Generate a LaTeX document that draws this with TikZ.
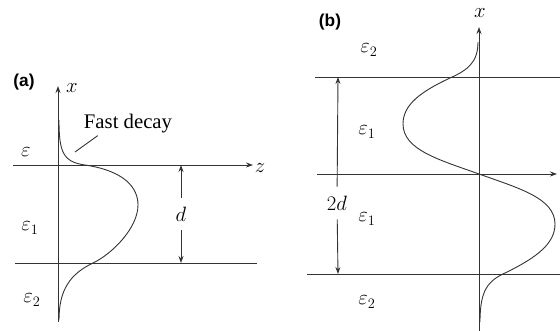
\documentclass[tikz,border=0pt]{standalone}
\usepackage{fontspec}
\setmainfont{Liberation Serif}
\setsansfont{Liberation Sans}
\usetikzlibrary{arrows.meta}

\begin{document}
\begin{tikzpicture}[x=1pt,y=-1pt,>={Stealth[length=7pt,width=5pt]},
  ln/.style={line width=.9pt,draw=black!80},
  wave/.style={line width=.9pt,draw=black!80},
  lbl/.style={font=\huge,inner sep=1pt},
  gap/.style={lbl,inner ysep=9pt},
  tag/.style={font=\sffamily\bfseries\LARGE}]
\useasboundingbox (0,0) rectangle (560,331);
% (a) one slab, fast decay on top
\node[tag] (ta) at (24,82) {(a)};
\coordinate (xa0) at (58,322); \coordinate (xa1) at (58,86);
\coordinate (za0) at (13,165); \coordinate (za1) at (253,165);
\coordinate (ba0) at (15,263); \coordinate (ba1) at (257,263);
\draw[ln,->] (xa0) -- (xa1);
\draw[ln,->] (za0) -- (za1);
\draw[ln] (ba0) -- (ba1);
\node[lbl] (xla) at (72,88) {$x$};
\node[lbl] (zla) at (260,168) {$z$};
\node[lbl] (ea) at (26,152) {$\varepsilon$};
\node[lbl] (ea1) at (30,228) {$\varepsilon_1$};
\node[lbl] (ea2) at (32,300) {$\varepsilon_2$};
\node[gap] (d) at (181,214) {$d$};
\coordinate (dt) at (181,165); \coordinate (db) at (181,263);
\draw[ln,->] (d) -- (dt);
\draw[ln,->] (d) -- (db);
\node[lbl] (fd) at (128,124) {Fast decay};
\coordinate (fdp) at (75,152);
\draw[ln] ([xshift=15pt,yshift=-1pt]fd.south west) -- (fdp);
\draw[wave] (59,120) .. controls (59,152) and (63,162) .. (85,165)
  .. controls (125,171) and (138,188) .. (138,205)
  .. controls (138,228) and (112,254) .. (93,263)
  .. controls (70,274) and (59,290) .. (59,320);
% (b) two slabs, odd mode
\node[tag] (tb) at (330,22) {(b)};
\coordinate (xb0) at (479,331); \coordinate (xb1) at (479,27);
\coordinate (tl0) at (315,77); \coordinate (tl1) at (560,77);
\coordinate (zb0) at (317,174); \coordinate (zb1) at (557,174);
\coordinate (bl0) at (307,274); \coordinate (bl1) at (560,274);
\draw[ln,->] (xb0) -- (xb1);
\draw[ln] (tl0) -- (tl1);
\draw[ln,->] (zb0) -- (zb1);
\draw[ln] (bl0) -- (bl1);
\node[lbl] (xlb) at (480,13) {$x$};
\node[lbl] (eb2) at (369,50) {$\varepsilon_2$};
\node[lbl] (eb1) at (367,132) {$\varepsilon_1$};
\node[lbl] (eb1b) at (367,219) {$\varepsilon_1$};
\node[lbl] (eb2b) at (367,302) {$\varepsilon_2$};
\node[gap] (dd) at (337,203) {$2d$};
\coordinate (ddt) at (338,77); \coordinate (ddb) at (338,274);
\draw[ln,->] (dd) -- (ddt);
\draw[ln,->] (dd) -- (ddb);
\draw[wave] (478,42) .. controls (478,62) and (468,70) .. (450,78)
  .. controls (420,92) and (403,105) .. (403,124)
  .. controls (403,150) and (440,160) .. (479,174)
  .. controls (518,188) and (555,198) .. (555,224)
  .. controls (555,243) and (538,257) .. (505,273)
  .. controls (488,281) and (480,290) .. (480,322);
\end{tikzpicture}
\end{document}
